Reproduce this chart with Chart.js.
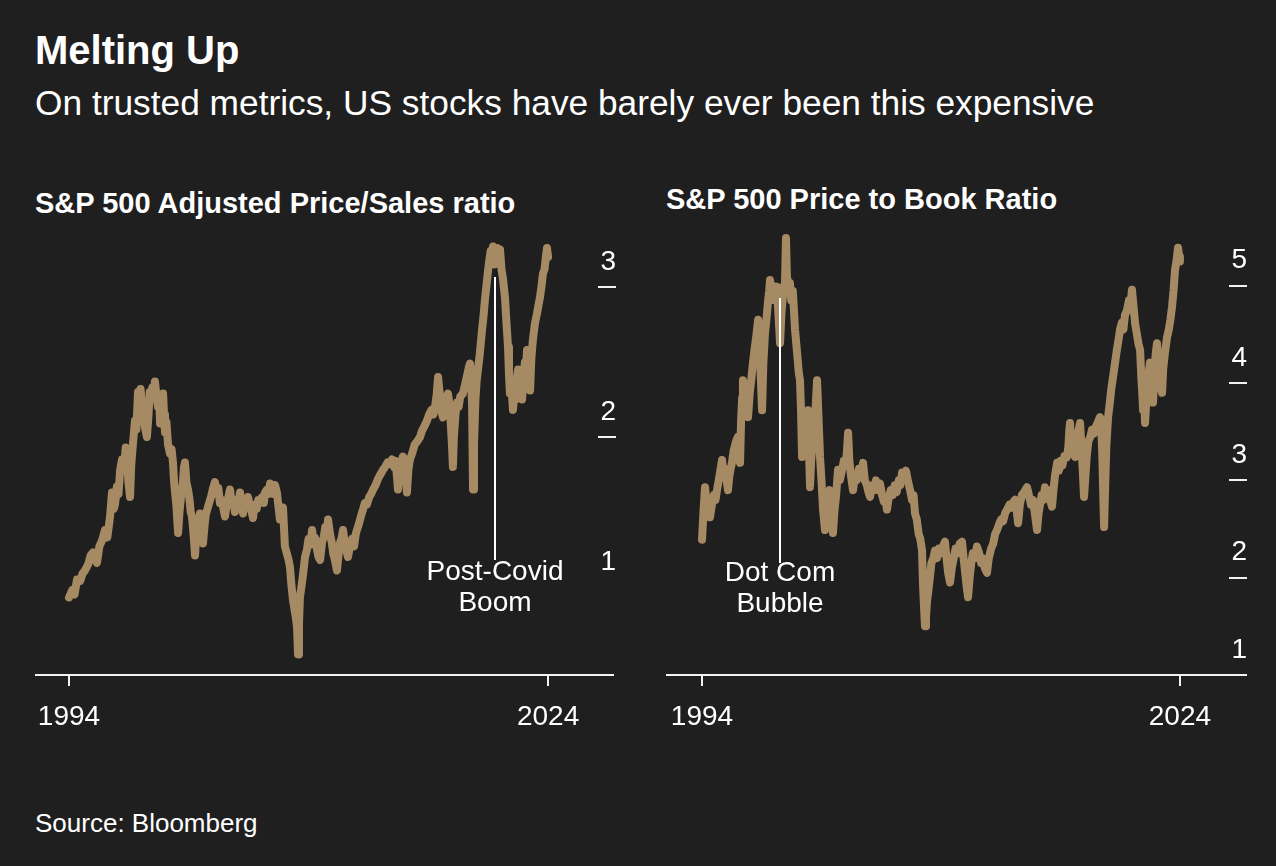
<!DOCTYPE html>
<html><head><meta charset="utf-8">
<script src="https://cdn.jsdelivr.net/npm/chart.js@4"></script>
<style>
html,body{margin:0;padding:0;background:#1f1f1f;}
body{width:1276px;height:866px;position:relative;overflow:hidden;font-family:"Liberation Sans",Arial,Helvetica,sans-serif;color:#fff;}
.t{position:absolute;left:35px;white-space:nowrap;line-height:1;}
#title{top:30px;font-size:40px;font-weight:bold;}
#sub{top:85px;font-size:35.3px;}
#pt1{top:189px;font-size:29px;font-weight:bold;}
#pt2{left:666px;top:185px;font-size:29px;font-weight:bold;}
#src{top:810px;font-size:26px;}
canvas{position:absolute;}
#c1{left:35px;top:230px;}
#c2{left:666px;top:230px;}
</style></head><body>
<div class="t" id="title">Melting Up</div>
<div class="t" id="sub">On trusted metrics, US stocks have barely ever been this expensive</div>
<div class="t" id="pt1">S&amp;P 500 Adjusted Price/Sales ratio</div>
<div class="t" id="pt2">S&amp;P 500 Price to Book Ratio</div>
<div class="t" id="src">Source: Bloomberg</div>
<canvas id="c1" width="581" height="530"></canvas>
<canvas id="c2" width="581" height="530"></canvas>
<script>
const xTickYears = [1994, 2024];
const psTicks = [1, 2, 3];
const pbTicks = [1, 2, 3, 4, 5];

// [decimal year, ratio] — S&P 500 adjusted price/sales
const psSeries = [
[1994.0,0.93],[1994.2,0.98],[1994.35,0.95],[1994.5,1.05],[1994.7,1.04],[1994.85,1.09],
[1995.0,1.11],[1995.2,1.15],[1995.35,1.21],[1995.5,1.23],[1995.62,1.19],[1995.75,1.16],[1995.9,1.27],
[1996.07,1.31],[1996.25,1.38],[1996.4,1.33],[1996.57,1.47],[1996.69,1.63],[1996.8,1.52],[1996.88,1.55],
[1997.0,1.67],[1997.1,1.62],[1997.2,1.78],[1997.32,1.85],[1997.45,1.80],[1997.55,1.93],[1997.63,1.88],[1997.72,1.70],[1997.82,1.60],[1997.9,1.82],
[1998.0,1.95],[1998.13,2.11],[1998.22,2.05],[1998.32,2.30],[1998.4,2.22],[1998.48,2.32],[1998.57,2.20],[1998.68,2.12],[1998.78,2.05],[1998.88,2.00],[1998.98,2.15],
[1999.05,2.30],[1999.13,2.25],[1999.22,2.33],[1999.3,2.28],[1999.38,2.37],[1999.47,2.28],[1999.57,2.20],[1999.65,2.25],[1999.7,2.09],[1999.8,2.18],[1999.89,2.29],[1999.95,2.15],
[2000.01,2.03],[2000.1,2.10],[2000.2,1.95],[2000.32,1.89],[2000.42,1.92],[2000.51,1.83],[2000.58,1.70],[2000.64,1.63],[2000.72,1.55],[2000.83,1.36],[2000.92,1.50],
[2001.01,1.60],[2001.12,1.68],[2001.2,1.80],[2001.26,1.83],[2001.35,1.70],[2001.45,1.65],[2001.55,1.58],[2001.62,1.50],[2001.7,1.47],[2001.8,1.35],[2001.89,1.21],[2001.97,1.35],
[2002.05,1.42],[2002.12,1.38],[2002.2,1.49],[2002.3,1.40],[2002.39,1.29],[2002.48,1.40],[2002.56,1.48],[2002.64,1.51],[2002.75,1.55],[2002.89,1.60],
[2003.0,1.65],[2003.14,1.70],[2003.25,1.62],[2003.35,1.66],[2003.45,1.56],[2003.58,1.58],[2003.67,1.52],[2003.77,1.47],[2003.88,1.55],[2003.98,1.60],
[2004.08,1.65],[2004.2,1.55],[2004.3,1.58],[2004.39,1.50],[2004.5,1.58],[2004.6,1.55],[2004.71,1.63],[2004.8,1.56],[2004.9,1.49],
[2005.0,1.57],[2005.1,1.53],[2005.21,1.60],[2005.3,1.55],[2005.4,1.52],[2005.52,1.46],[2005.62,1.55],[2005.75,1.52],[2005.85,1.58],[2005.96,1.58],
[2006.1,1.60],[2006.2,1.56],[2006.27,1.63],[2006.4,1.65],[2006.5,1.62],[2006.59,1.69],[2006.7,1.66],[2006.8,1.62],[2006.9,1.68],
[2007.02,1.63],[2007.1,1.55],[2007.21,1.45],[2007.3,1.50],[2007.4,1.53],[2007.52,1.27],[2007.65,1.22],[2007.75,1.18],[2007.84,1.13],[2007.92,1.02],
[2008.03,0.91],[2008.12,0.85],[2008.2,0.80],[2008.28,0.73],[2008.34,0.55],[2008.4,0.75],[2008.46,0.93],[2008.55,1.00],[2008.65,1.08],[2008.78,1.20],[2008.9,1.25],
[2009.0,1.32],[2009.1,1.28],[2009.22,1.38],[2009.3,1.30],[2009.4,1.33],[2009.53,1.25],[2009.62,1.20],[2009.72,1.18],[2009.85,1.30],[2009.95,1.33],
[2010.05,1.40],[2010.15,1.35],[2010.22,1.45],[2010.35,1.35],[2010.45,1.30],[2010.55,1.22],[2010.65,1.18],[2010.78,1.11],[2010.88,1.22],[2010.98,1.30],
[2011.08,1.33],[2011.16,1.38],[2011.25,1.30],[2011.35,1.25],[2011.47,1.20],[2011.6,1.28],[2011.72,1.32],[2011.85,1.27],[2011.95,1.35],
[2012.03,1.38],[2012.15,1.42],[2012.3,1.48],[2012.42,1.52],[2012.53,1.56],[2012.65,1.55],[2012.8,1.60],[2012.92,1.62],
[2013.04,1.65],[2013.2,1.68],[2013.35,1.72],[2013.5,1.75],[2013.66,1.78],[2013.8,1.80],[2013.95,1.83],
[2014.1,1.82],[2014.23,1.85],[2014.35,1.80],[2014.45,1.84],[2014.55,1.72],[2014.6,1.65],[2014.7,1.80],[2014.8,1.83],[2014.91,1.87],
[2015.0,1.82],[2015.08,1.75],[2015.16,1.63],[2015.25,1.78],[2015.35,1.85],[2015.45,1.88],[2015.54,1.91],[2015.65,1.95],[2015.8,1.97],[2015.98,2.00],
[2016.1,2.04],[2016.25,2.07],[2016.42,2.11],[2016.55,2.15],[2016.7,2.18],[2016.82,2.15],[2016.92,2.20],
[2017.02,2.28],[2017.11,2.40],[2017.2,2.30],[2017.3,2.18],[2017.42,2.13],[2017.52,2.20],[2017.62,2.25],[2017.73,2.29],[2017.82,2.22],[2017.9,2.10],[2017.98,1.95],
[2018.04,1.80],[2018.1,2.00],[2018.2,2.15],[2018.3,2.23],[2018.4,2.20],[2018.5,2.27],[2018.67,2.29],[2018.8,2.35],[2018.95,2.42],
[2019.05,2.47],[2019.11,2.49],[2019.18,2.40],[2019.24,2.20],[2019.3,1.65],[2019.36,1.95],[2019.45,2.25],[2019.53,2.38],[2019.61,2.45],[2019.72,2.55],[2019.86,2.71],[2019.95,2.80],
[2020.05,2.92],[2020.15,3.02],[2020.24,3.11],[2020.32,3.18],[2020.4,3.24],[2020.48,3.20],[2020.55,3.27],[2020.65,3.15],[2020.75,3.22],[2020.85,3.26],[2020.92,3.20],[2020.99,3.25],
[2021.08,3.12],[2021.18,3.05],[2021.3,2.93],[2021.4,2.75],[2021.49,2.60],[2021.55,2.42],[2021.61,2.29],[2021.7,2.35],[2021.8,2.18],[2021.9,2.30],[2021.98,2.25],
[2022.05,2.40],[2022.12,2.45],[2022.2,2.30],[2022.28,2.38],[2022.37,2.25],[2022.45,2.40],[2022.55,2.50],[2022.62,2.45],[2022.68,2.58],[2022.78,2.40],[2022.87,2.31],[2022.95,2.52],
[2023.05,2.65],[2023.18,2.76],[2023.3,2.82],[2023.4,2.88],[2023.49,2.93],[2023.58,3.00],[2023.68,3.09],[2023.78,3.12],[2023.86,3.20],[2023.93,3.26],[2024.0,3.20]
];

// [decimal year, ratio] — S&P 500 price to book
const pbSeries = [
[1994.0,2.39],[1994.1,2.70],[1994.19,2.93],[1994.3,2.75],[1994.4,2.80],[1994.5,2.62],[1994.62,2.75],[1994.75,2.85],[1994.85,2.80],[1994.94,2.90],
[1995.05,3.00],[1995.15,3.10],[1995.26,3.21],[1995.35,3.05],[1995.45,3.12],[1995.55,3.00],[1995.63,2.90],[1995.72,3.05],[1995.8,3.12],[1995.88,3.18],[1995.98,3.30],
[1996.1,3.38],[1996.18,3.42],[1996.26,3.45],[1996.32,3.30],[1996.39,3.18],[1996.45,3.60],[1996.52,3.85],[1996.57,4.03],[1996.65,3.90],[1996.75,3.78],[1996.89,3.65],
[1997.0,3.90],[1997.1,4.05],[1997.2,4.21],[1997.3,4.35],[1997.42,4.50],[1997.52,4.65],[1997.6,4.40],[1997.68,4.10],[1997.77,3.72],[1997.85,4.20],[1997.95,4.50],
[1998.08,4.72],[1998.15,4.85],[1998.22,4.95],[1998.27,5.06],[1998.35,4.90],[1998.45,5.00],[1998.55,4.85],[1998.62,4.95],[1998.71,4.99],[1998.8,4.70],[1998.9,4.41],[1998.98,4.70],
[1999.08,4.90],[1999.15,5.00],[1999.2,4.95],[1999.27,5.49],[1999.33,5.10],[1999.42,5.00],[1999.52,5.03],[1999.6,4.85],[1999.7,4.95],[1999.84,4.55],[1999.92,4.40],
[2000.0,4.25],[2000.08,4.10],[2000.15,4.03],[2000.22,3.70],[2000.28,3.24],[2000.35,3.40],[2000.45,3.60],[2000.55,3.50],[2000.65,3.72],[2000.72,3.30],[2000.78,2.93],[2000.85,3.20],[2000.95,3.40],
[2001.05,3.55],[2001.15,3.80],[2001.22,4.03],[2001.3,3.70],[2001.41,3.24],[2001.5,3.00],[2001.6,2.70],[2001.72,2.49],[2001.82,2.65],[2001.92,2.80],
[2002.0,2.90],[2002.1,2.75],[2002.22,2.46],[2002.32,2.70],[2002.42,2.85],[2002.54,3.11],[2002.65,3.00],[2002.78,3.10],[2002.9,3.20],
[2003.02,3.15],[2003.1,3.30],[2003.17,3.49],[2003.25,3.20],[2003.35,3.05],[2003.48,2.90],[2003.6,3.05],[2003.72,3.00],[2003.85,3.12],[2003.98,3.05],
[2004.11,3.18],[2004.22,3.00],[2004.35,2.95],[2004.45,2.88],[2004.55,2.83],[2004.68,2.95],[2004.8,2.90],[2004.92,3.00],
[2005.05,2.90],[2005.17,2.97],[2005.3,2.85],[2005.42,2.78],[2005.52,2.80],[2005.61,2.70],[2005.72,2.82],[2005.85,2.90],[2005.98,2.85],
[2006.1,2.95],[2006.22,2.88],[2006.35,3.00],[2006.45,2.95],[2006.56,3.08],[2006.68,3.05],[2006.8,3.10],[2006.92,3.00],
[2007.06,2.90],[2007.18,2.80],[2007.28,2.85],[2007.37,2.66],[2007.48,2.60],[2007.6,2.45],[2007.7,2.40],[2007.81,2.28],[2007.88,1.90],[2007.95,1.65],
[2008.0,1.50],[2008.06,1.60],[2008.12,1.75],[2008.19,1.84],[2008.3,2.00],[2008.4,2.15],[2008.52,2.20],[2008.63,2.28],[2008.75,2.20],[2008.88,2.30],
[2009.0,2.25],[2009.12,2.32],[2009.25,2.37],[2009.35,2.20],[2009.45,2.05],[2009.57,1.95],[2009.68,2.10],[2009.8,2.20],[2009.92,2.30],
[2010.05,2.25],[2010.18,2.35],[2010.32,2.37],[2010.42,2.20],[2010.52,2.05],[2010.62,1.90],[2010.7,1.80],[2010.8,2.00],[2010.9,2.15],
[2011.0,2.25],[2011.12,2.20],[2011.26,2.32],[2011.4,2.25],[2011.52,2.15],[2011.62,2.20],[2011.75,2.10],[2011.89,2.05],
[2012.0,2.20],[2012.15,2.30],[2012.28,2.35],[2012.4,2.45],[2012.52,2.49],[2012.65,2.55],[2012.78,2.60],[2012.9,2.58],
[2013.02,2.66],[2013.15,2.70],[2013.3,2.75],[2013.45,2.72],[2013.55,2.78],[2013.65,2.80],[2013.75,2.70],[2013.84,2.56],[2013.95,2.75],
[2014.08,2.85],[2014.22,2.88],[2014.4,2.93],[2014.52,2.85],[2014.65,2.75],[2014.78,2.80],[2014.9,2.65],
[2015.03,2.49],[2015.12,2.65],[2015.22,2.75],[2015.32,2.85],[2015.42,2.80],[2015.53,2.93],[2015.65,2.85],[2015.78,2.90],[2015.88,2.78],[2015.97,2.73],
[2016.06,2.90],[2016.16,3.05],[2016.29,3.18],[2016.4,3.10],[2016.52,3.20],[2016.62,3.15],[2016.75,3.25],[2016.91,3.24],
[2017.0,3.35],[2017.05,3.50],[2017.1,3.59],[2017.18,3.35],[2017.3,3.30],[2017.42,3.24],[2017.52,3.40],[2017.62,3.50],[2017.73,3.59],[2017.8,3.40],[2017.9,3.10],[2017.98,2.83],
[2018.05,3.00],[2018.15,3.25],[2018.25,3.40],[2018.38,3.45],[2018.48,3.52],[2018.6,3.48],[2018.72,3.55],[2018.85,3.60],[2018.98,3.65],
[2019.05,3.60],[2019.12,3.30],[2019.18,2.90],[2019.24,2.52],[2019.3,2.90],[2019.38,3.35],[2019.49,3.65],[2019.6,3.80],[2019.7,3.95],[2019.8,4.06],[2019.92,4.20],
[2020.05,4.35],[2020.15,4.45],[2020.24,4.55],[2020.35,4.62],[2020.45,4.55],[2020.55,4.70],[2020.68,4.75],[2020.8,4.85],[2020.9,4.80],[2020.99,4.96],
[2021.08,4.80],[2021.18,4.62],[2021.3,4.50],[2021.4,4.40],[2021.5,4.34],[2021.58,4.05],[2021.65,3.85],[2021.69,3.72],[2021.75,3.90],[2021.81,3.59],[2021.9,3.85],
[2022.0,4.05],[2022.12,4.21],[2022.2,4.00],[2022.31,3.80],[2022.4,4.10],[2022.48,4.30],[2022.56,4.41],[2022.65,4.15],[2022.75,4.00],[2022.88,3.90],[2022.95,4.15],
[2023.05,4.30],[2023.19,4.47],[2023.3,4.55],[2023.4,4.65],[2023.5,4.78],[2023.6,4.95],[2023.69,5.16],[2023.78,5.25],[2023.88,5.39],[2023.95,5.30],[2024.0,5.25]
];

const LINE = 'rgb(166,138,99)';
const WHITE = '#f2f2f2';
const FONT = '"Liberation Sans", Arial, Helvetica, sans-serif';

const axisLine = {
  id: 'axisLine',
  afterDraw(chart) {
    const xs = chart.scales.x, ys = chart.scales.y, ctx = chart.ctx;
    ctx.save();
    ctx.strokeStyle = WHITE; ctx.lineWidth = 2;
    ctx.beginPath();
    ctx.moveTo(xs.left, xs.top);
    ctx.lineTo(ys.right - 2, xs.top);
    ctx.stroke();
    ctx.restore();
  }
};

const callout = {
  id: 'callout',
  afterDatasetsDraw(chart, args, opts) {
    if (!opts || !opts.lines) return;
    const xs = chart.scales.x, ys = chart.scales.y, ctx = chart.ctx;
    const px = Math.round(xs.getPixelForValue(opts.x));
    const top = ys.getPixelForValue(opts.top), bot = ys.getPixelForValue(opts.bottom);
    ctx.save();
    ctx.strokeStyle = '#ffffff'; ctx.lineWidth = 2;
    ctx.beginPath(); ctx.moveTo(px, top); ctx.lineTo(px, bot); ctx.stroke();
    ctx.font = '28px ' + FONT;
    ctx.fillStyle = '#ffffff'; ctx.textAlign = 'center'; ctx.textBaseline = 'middle';
    opts.lines.forEach((t, i) => ctx.fillText(t, px, bot + opts.gap + i * 31));
    ctx.restore();
  }
};

function makeChart(id, series, yTicks, xMin, xMax, yMin, yMax, note, hideTick1) {
  const pts = series.map(p => ({x: p[0], y: p[1]}));
  return new Chart(document.getElementById(id), {
    type: 'line',
    data: { datasets: [{ data: pts, borderColor: LINE, borderWidth: 8, pointRadius: 0, tension: 0,
      borderJoinStyle: 'round', borderCapStyle: 'round', fill: false }] },
    options: {
      responsive: false, animation: false, devicePixelRatio: 1,
      layout: { padding: 0 },
      plugins: { legend: { display: false }, tooltip: { enabled: false }, callout: note },
      scales: {
        x: {
          type: 'linear', min: xMin, max: xMax,
          afterBuildTicks: s => { s.ticks = xTickYears.map(v => ({value: v})); },
          afterFit: s => { s.height = 85; s.paddingLeft = 0; s.paddingRight = 0; },
          border: { display: false },
          grid: { drawOnChartArea: false, drawTicks: true, tickLength: 11, color: WHITE, lineWidth: 2 },
          ticks: { autoSkip: false, maxRotation: 0, padding: 14, color: '#ffffff',
            font: { family: FONT, size: 28 }, callback: v => String(v) }
        },
        y: {
          position: 'right', min: yMin, max: yMax,
          afterBuildTicks: s => { s.ticks = yTicks.map(v => ({value: v})); },
          afterFit: s => { s.width = 18; s.paddingTop = 0; s.paddingBottom = 0; },
          border: { display: false },
          grid: { drawOnChartArea: false, drawTicks: true, tickLength: 18, lineWidth: 2,
            color: c => (hideTick1 && c.tick && c.tick.value === 1) ? 'rgba(0,0,0,0)' : WHITE },
          ticks: { crossAlign: 'far', padding: -17, labelOffset: -25, color: '#ffffff',
            font: { family: FONT, size: 28 }, callback: v => String(v) }
        }
      }
    },
    plugins: [axisLine, callout]
  });
}

makeChart('c1', psSeries, psTicks, 1991.87, 2027.125, 0.413, 3.38,
  { x: 2020.67, top: 3.067, bottom: 1.18, gap: 12, lines: ['Post-Covid', 'Boom'] }, true);
makeChart('c2', pbSeries, pbTicks, 1991.74, 2027.08, 1.0, 5.573,
  { x: 1998.90, top: 4.875, bottom: 2.151, gap: 10, lines: ['Dot Com', 'Bubble'] }, false);
</script>
</body></html>
